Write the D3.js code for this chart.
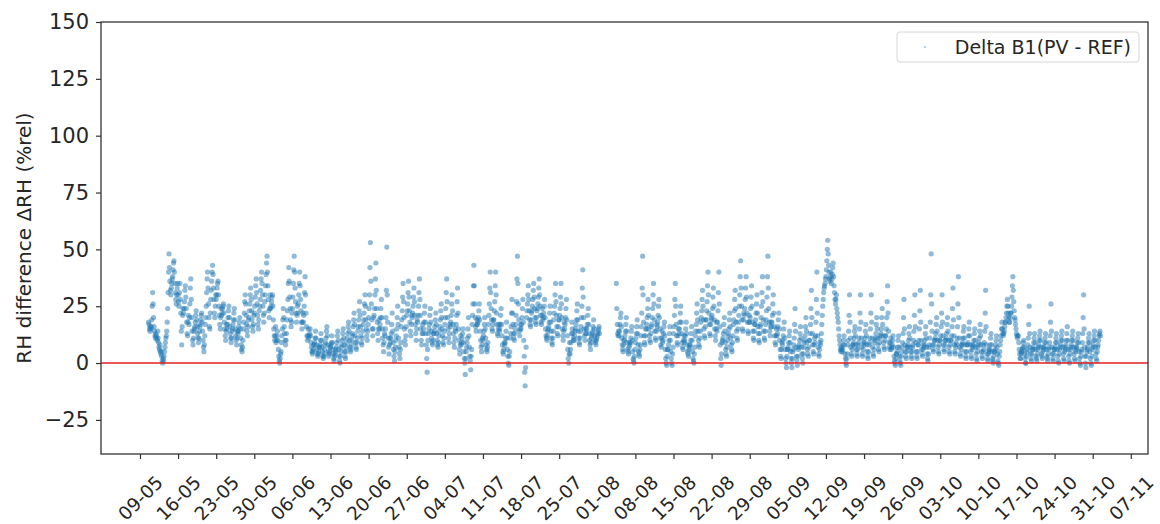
<!DOCTYPE html>
<html>
<head>
<meta charset="utf-8">
<script src="https://cdn.jsdelivr.net/npm/d3@7"></script>
<style>
  html, body { margin: 0; padding: 0; background: #fff; }
  svg { display: block; }
  text { font-family: "DejaVu Sans", sans-serif; fill: #262626; }
</style>
</head>
<body>
<svg id="chart" width="1160" height="524"></svg>
<script>
// Two-hourly RH difference readings (%rel), sensor B1 on PV site minus reference.
// One string per day, values at 00,02,...,22 h; "-" marks a missing reading.
const sampleHours = [0, 2, 4, 6, 8, 10, 12, 14, 16, 18, 20, 22];

const mayFirstDay = 10;
const mayReadings = [
  "- - - - - - - 18 17 15 14 16",
  "15 16 19 25 31 26 20 16 14 12 11 13",
  "12 11 10 14 11 9 7 6 8 5 4 5",
  "3 1 0 2 1 3 5 7 9 11 12 14",
  "18 24 31 40 48 42 36 32 30 33 35 37",
  "38 41 44 45 40 35 31 28 26 30 33 35",
  "30 27 25 31 35 28 22 14 8 16 21 24",
  "22 24 27 32 34 29 24 18 13 12 18 21",
  "17 20 26 33 37 28 20 14 10 8 11 14",
  "15 16 18 21 23 19 16 13 11 9 11 14",
  "16 17 19 21 22 18 14 10 7 5 8 12",
  "17 20 25 31 37 40 33 26 20 16 15 22",
  "28 32 36 40 43 39 33 28 22 20 25 30",
  "28 30 33 35 36 30 25 21 17 15 20 24",
  "21 22 24 25 26 22 18 15 12 10 14 17",
  "15 17 20 23 25 20 16 13 11 9 11 14",
  "15 17 19 22 24 19 15 12 10 8 11 14",
  "13 14 16 18 20 15 11 8 6 5 7 10",
  "15 18 22 27 30 26 21 17 14 12 16 19",
  "20 23 26 30 33 28 23 19 16 14 17 21",
  "22 25 29 34 37 31 26 21 17 15 19 23",
  "25 28 32 37 40 35 30 25 21 18 22 27"
];

const junFirstDay = 1;
const junReadings = [
  "30 34 39 44 47 40 34 28 23 20 24 30",
  "24 25 27 29 30 25 19 15 12 10 12 16",
  "9 10 12 14 10 6 3 1 0 2 4 5",
  "9 12 15 19 24 20 16 13 10 8 10 13",
  "19 23 28 35 42 36 29 24 19 16 18 22",
  "24 29 35 41 47 40 33 27 22 18 21 25",
  "22 26 30 35 40 34 28 23 18 15 18 22",
  "18 21 25 31 38 30 22 16 12 10 12 15",
  "11 12 13 15 12 9 7 5 4 5 6 8",
  "8 9 11 14 11 8 6 4 3 4 5 7",
  "7 8 10 13 10 7 5 3 2 3 4 6",
  "8 9 11 14 16 12 8 5 3 4 5 7",
  "7 8 9 12 9 6 4 2 1 3 4 6",
  "5 7 9 12 14 10 6 3 1 0 3 5",
  "7 8 10 13 15 11 8 5 3 2 5 7",
  "9 11 13 16 18 14 10 7 5 6 8 10",
  "12 13 16 19 22 17 12 9 7 6 9 11",
  "14 16 19 23 27 21 16 12 9 8 11 14",
  "17 19 22 26 30 25 19 15 12 10 14 17",
  "20 24 30 42 53 36 26 19 15 12 15 20",
  "21 24 30 37 44 32 24 18 13 10 15 19",
  "15 17 20 24 28 20 15 11 8 5 9 13",
  "12 15 20 32 51 30 18 11 7 4 8 11",
  "9 11 13 17 22 14 9 6 3 1 5 7",
  "10 12 15 20 25 17 11 7 4 2 6 9",
  "16 19 23 29 35 27 20 15 10 8 12 16",
  "21 23 26 31 36 29 23 18 14 12 17 21",
  "20 22 25 29 33 27 21 17 13 10 15 19",
  "18 21 25 31 37 28 21 15 10 8 13 17",
  "13 15 18 22 25 18 13 8 2 -4 6 10"
];

const julFirstDay = 1;
const julReadings = [
  "13 15 17 21 24 18 14 11 9 8 10 13",
  "13 14 16 19 22 17 13 10 8 7 9 12",
  "14 16 19 23 26 20 15 12 9 8 11 14",
  "17 20 24 31 37 27 20 15 11 9 13 17",
  "16 18 21 26 30 23 17 13 9 7 11 15",
  "14 17 21 27 33 22 15 10 6 4 8 12",
  "8 9 11 13 15 9 5 2 0 -5 2 5",
  "7 9 11 15 20 12 7 3 1 -3 3 6",
  "17 21 26 34 43 34 26 20 16 14 17 19",
  "17 18 20 23 26 19 14 10 7 5 8 11",
  "10 12 14 17 20 15 11 8 6 5 7 9",
  "17 21 26 33 40 31 24 19 15 14 17 19",
  "19 23 27 34 40 30 22 17 13 12 15 17",
  "14 15 17 21 24 17 12 8 5 4 6 9",
  "8 9 11 14 18 11 6 3 0 -1 3 5",
  "11 13 16 22 28 22 17 13 11 10 13 15",
  "17 21 27 37 47 35 26 19 14 12 15 17",
  "15 17 20 24 28 18 10 3 -4 -10 -2 7",
  "20 23 26 30 34 28 23 19 17 16 19 22",
  "23 25 28 32 35 29 24 20 18 17 20 23",
  "24 26 29 33 37 30 25 21 18 17 21 24",
  "19 20 22 25 28 20 15 12 11 10 12 14",
  "15 16 18 22 25 18 14 11 9 8 11 14",
  "19 22 25 30 35 27 21 16 13 12 16 19",
  "19 21 24 29 35 26 20 15 12 10 14 18",
  "15 17 20 24 28 19 12 6 2 0 4 9",
  "4 6 9 13 18 15 13 11 10 10 12 14",
  "15 17 19 23 26 19 14 11 9 8 11 14",
  "16 20 25 33 41 29 20 15 12 10 13 15",
  "13 15 17 21 24 17 13 10 8 6 9 11",
  "12 13 14 16 19 15 12 10 9 8 10 11"
];

const augFirstDay = 1;
const augReadings = [
  "12 13 14 15 16 13 - - - - - -",
  "- - - - - - - - - - - -",
  "- - - - - - - - - - - -",
  "- - - - - - 35 24 17 13 12 14",
  "12 14 17 20 22 16 11 8 6 5 8 10",
  "10 12 14 17 20 14 9 6 5 4 7 9",
  "8 9 11 14 16 10 5 2 1 0 3 6",
  "9 11 13 16 19 13 8 5 4 3 6 8",
  "12 16 22 33 47 30 18 12 9 8 12 15",
  "15 17 20 24 28 21 15 12 10 9 13 16",
  "17 20 24 30 35 26 19 14 11 10 14 17",
  "16 18 21 25 28 20 15 11 8 7 11 14",
  "9 10 13 16 18 12 6 2 0 -1 3 6",
  "6 8 10 13 16 10 5 2 0 -1 4 7",
  "13 16 21 28 35 25 17 12 9 8 12 15",
  "13 15 18 22 25 18 13 9 7 6 10 12",
  "9 10 12 15 18 13 8 5 4 3 6 8",
  "7 8 10 13 16 10 5 2 1 0 4 7",
  "12 14 17 22 26 19 14 10 8 7 11 14",
  "18 20 23 28 32 25 19 15 12 11 16 19",
  "19 23 27 34 40 30 22 17 13 12 17 20",
  "19 21 24 29 33 25 19 15 12 10 15 18",
  "14 18 23 31 40 26 16 8 2 -1 4 9",
  "10 11 13 17 20 14 9 6 4 3 7 10",
  "12 13 15 19 22 16 11 8 6 5 9 12",
  "17 19 23 28 32 24 18 14 11 10 15 18",
  "21 25 30 38 45 33 25 19 15 14 19 22",
  "21 24 28 33 38 29 22 18 14 13 18 21",
  "18 20 24 29 34 25 18 14 11 10 14 17",
  "17 19 22 26 30 22 16 13 10 9 13 16",
  "17 20 25 31 38 27 19 14 11 10 14 17"
];

const sepFirstDay = 1;
const sepReadings = [
  "19 23 29 38 47 33 24 18 14 12 16 18",
  "16 18 21 26 30 22 16 12 9 8 12 15",
  "12 13 16 19 22 15 10 6 3 2 6 9",
  "8 10 12 15 18 11 6 2 0 -2 3 6",
  "6 7 9 12 14 9 5 2 0 -2 2 5",
  "6 8 11 17 24 14 7 3 1 -1 3 6",
  "7 8 10 13 16 11 7 4 2 0 4 7",
  "9 10 12 16 20 14 9 6 4 3 7 10",
  "10 13 17 24 32 20 13 8 5 4 8 11",
  "9 12 18 28 40 22 12 7 4 3 6 9",
  "8 10 13 17 21 25 28 31 33 34 35 37",
  "38 41 45 50 54 48 43 40 37 36 38 40",
  "35 37 39 42 44 38 34 31 28 26 28 30",
  "24 22 20 18 15 12 10 8 6 5 6 7",
  "5 6 8 10 12 8 4 2 0 -1 2 4",
  "8 10 14 21 30 18 11 7 4 3 6 8",
  "8 9 11 14 16 12 8 6 4 3 6 8",
  "9 11 15 22 30 18 11 7 4 3 6 9",
  "8 9 11 14 17 12 8 5 3 2 5 8",
  "9 11 15 22 30 18 11 7 4 3 6 9",
  "10 11 13 17 20 15 11 8 6 5 9 11",
  "12 13 15 20 24 17 12 9 7 6 10 12",
  "12 15 20 27 34 22 14 9 7 6 9 11",
  "6 7 8 10 12 7 3 1 0 -1 2 4",
  "4 5 7 10 12 7 3 1 0 -1 3 5",
  "7 9 13 20 28 15 8 5 3 2 5 7",
  "7 8 10 13 16 11 7 5 3 2 5 7",
  "8 10 14 21 30 16 9 5 3 2 5 8",
  "8 10 15 23 32 18 10 6 4 3 6 8",
  "7 8 10 13 16 11 7 4 2 1 4 7"
];

const octFirstDay = 1;
const octReadings = [
  "8 11 18 30 48 26 14 8 6 5 8 10",
  "10 11 13 17 20 14 10 7 5 4 8 10",
  "10 12 16 22 30 18 12 8 6 5 8 10",
  "10 11 13 17 20 14 10 7 5 4 8 10",
  "10 12 16 24 33 19 12 8 5 4 7 9",
  "8 11 16 26 38 20 11 7 4 3 6 8",
  "8 9 11 14 16 11 8 5 3 2 5 8",
  "8 9 12 15 18 12 8 5 3 2 6 8",
  "7 8 10 13 15 10 7 4 2 1 5 7",
  "8 9 11 14 17 12 8 5 3 2 5 8",
  "6 9 14 22 32 16 8 4 2 1 4 6",
  "5 6 8 11 13 8 5 2 1 0 3 5",
  "5 6 8 10 12 7 4 1 0 -1 3 5",
  "8 10 12 15 18 15 13 12 13 14 16 18",
  "18 20 22 25 28 25 22 20 18 18 20 22",
  "22 25 29 34 38 32 27 23 20 19 17 15",
  "13 12 11 12 12 9 6 4 2 2 4 5",
  "5 6 7 9 10 7 4 2 0 0 3 5",
  "6 8 11 17 25 13 7 4 2 1 4 6",
  "6 7 9 11 13 9 6 3 2 1 4 6",
  "7 8 10 12 14 10 7 4 3 2 5 7",
  "6 7 9 11 13 9 6 3 2 1 4 6",
  "7 9 12 18 26 14 7 4 2 1 4 6",
  "6 7 9 11 13 9 6 3 1 0 4 6",
  "7 8 10 12 14 10 7 4 2 1 5 7",
  "6 8 10 13 16 10 6 3 1 0 4 6",
  "7 8 10 12 14 10 7 4 2 1 5 7",
  "6 7 9 11 13 9 5 2 0 -1 3 5",
  "6 9 13 20 30 15 7 3 0 -2 3 5",
  "6 7 9 11 13 9 5 2 0 -1 3 6",
  "7 8 10 12 14 10 7 4 2 1 5 7"
];

const novFirstDay = 1;
const novReadings = [
  "8 10 12 13 14 12 - - - - - -"
];

const yTicks = [-25, 0, 25, 50, 75, 100, 125, 150];
const yDomain = [-40, 150];
const seriesLabel = "Delta B1(PV - REF)";
const yAxisTitle = "RH difference ΔRH (%rel)";

// Build the point list from the monthly tables
function monthPoints(year, monthIndex, firstDay, rows) {
  const pts = [];
  rows.forEach((row, i) => {
    row.trim().split(/\s+/).forEach((tok, h) => {
      if (tok === "-") return;
      pts.push({ t: new Date(year, monthIndex, firstDay + i, sampleHours[h]), v: +tok });
    });
  });
  return pts;
}

const points = [].concat(
  monthPoints(2022, 4, mayFirstDay, mayReadings),
  monthPoints(2022, 5, junFirstDay, junReadings),
  monthPoints(2022, 6, julFirstDay, julReadings),
  monthPoints(2022, 7, augFirstDay, augReadings),
  monthPoints(2022, 8, sepFirstDay, sepReadings),
  monthPoints(2022, 9, octFirstDay, octReadings),
  monthPoints(2022, 10, novFirstDay, novReadings)
);

// Layout
const m = { left: 101, right: 1148, top: 22, bottom: 454 };

const svg = d3.select("#chart");

// Time axis with 5% padding on both sides of the data range
const ext = d3.extent(points, d => d.t);
const pad = (ext[1] - ext[0]) * 0.05;
const x = d3.scaleTime()
  .domain([new Date(+ext[0] - pad), new Date(+ext[1] + pad)])
  .range([m.left, m.right]);

const y = d3.scaleLinear().domain(yDomain).range([m.bottom, m.top]);

// Scatter points
svg.append("g").selectAll("circle")
  .data(points)
  .join("circle")
  .attr("cx", d => x(d.t))
  .attr("cy", d => y(d.v))
  .attr("r", 2.6)
  .attr("fill", "#1f77b4")
  .attr("fill-opacity", 0.5);

// Zero reference line
svg.append("line")
  .attr("x1", m.left).attr("x2", m.right)
  .attr("y1", y(0)).attr("y2", y(0))
  .attr("stroke", "#e3201f")
  .attr("stroke-width", 1.4);

// Y axis
const yAxis = svg.append("g")
  .attr("transform", `translate(${m.left},0)`)
  .call(d3.axisLeft(y).tickValues(yTicks).tickSize(5).tickPadding(7).tickFormat(d => d < 0 ? "\u2212" + Math.abs(d) : d));
yAxis.select(".domain").remove();
yAxis.selectAll("line").attr("stroke", "#333").attr("stroke-width", 1.2);
yAxis.selectAll("text").style("font-size", "21px").attr("fill", "#262626");

// X axis: weekly ticks on Mondays, labelled dd-mm and rotated
const xTicks = d3.timeMonday.range(new Date(2022, 4, 9), x.domain()[1]);
const xAxis = svg.append("g")
  .attr("transform", `translate(0,${m.bottom})`)
  .call(d3.axisBottom(x).tickValues(xTicks).tickSize(5).tickFormat(d3.timeFormat("%d-%m")));
xAxis.select(".domain").remove();
xAxis.selectAll("line").attr("stroke", "#333").attr("stroke-width", 1.2);
xAxis.selectAll("text")
  .style("font-size", "18.5px")
  .attr("fill", "#262626")
  .attr("text-anchor", "middle")
  .attr("dy", "0.35em")
  .attr("y", 0)
  .attr("transform", "translate(0,44) rotate(-45)");

// Frame
svg.append("rect")
  .attr("x", m.left).attr("y", m.top)
  .attr("width", m.right - m.left).attr("height", m.bottom - m.top)
  .attr("fill", "none").attr("stroke", "#333").attr("stroke-width", 1.3);

// Y axis title
svg.append("text")
  .attr("transform", `translate(24,${(m.top + m.bottom) / 2}) rotate(-90)`)
  .attr("text-anchor", "middle")
  .attr("dy", "0.35em")
  .style("font-size", "20px")
  .text(yAxisTitle);

// Legend
const lg = svg.append("g").attr("transform", "translate(897,32)");
lg.append("rect")
  .attr("width", 242).attr("height", 30).attr("rx", 3)
  .attr("fill", "#fff").attr("fill-opacity", 0.8)
  .attr("stroke", "#d6d6d6").attr("stroke-width", 1);
lg.append("circle")
  .attr("cx", 28).attr("cy", 15).attr("r", 1.2)
  .attr("fill", "#1f77b4").attr("fill-opacity", 0.35);
lg.append("text")
  .attr("x", 234).attr("y", 15)
  .attr("text-anchor", "end")
  .attr("dy", "0.35em")
  .style("font-size", "19px")
  .text(seriesLabel);
</script>
</body>
</html>
